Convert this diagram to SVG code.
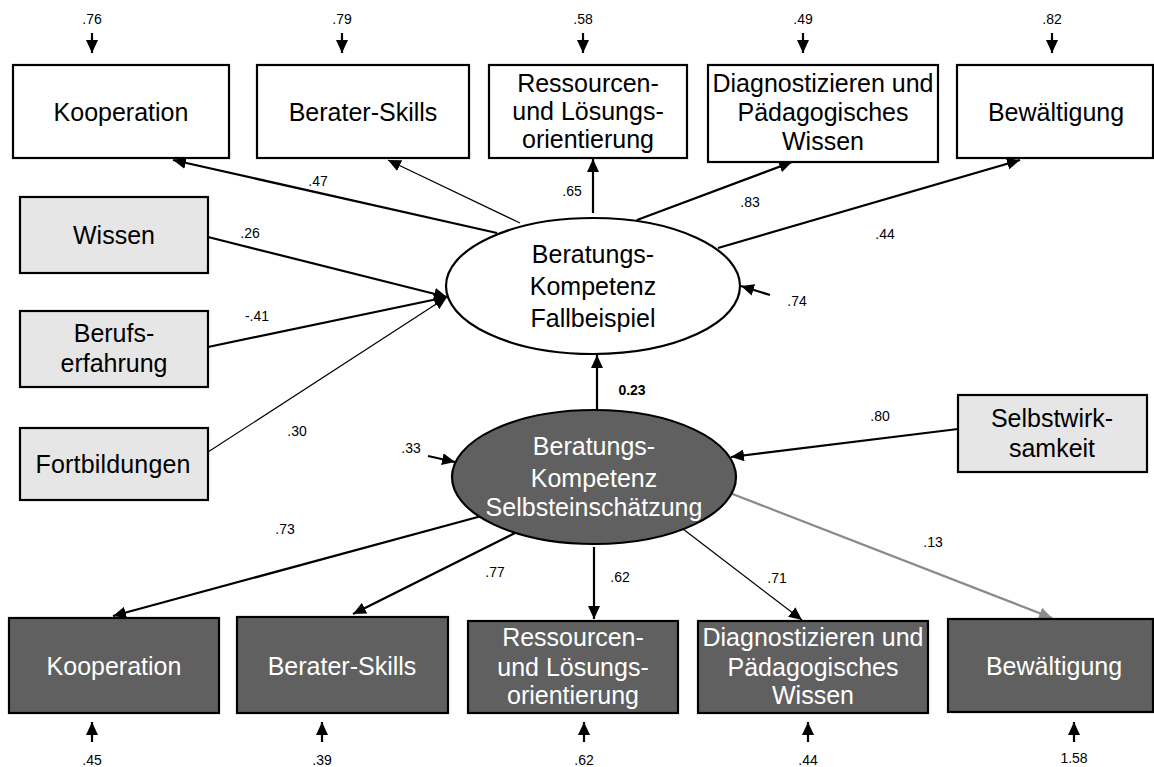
<svg xmlns="http://www.w3.org/2000/svg" width="1154" height="767" viewBox="0 0 1154 767">
<style>
.box{stroke:#000;stroke-width:2.2}
.w{fill:#fff}.g{fill:#e6e6e6}.d{fill:#606060}
.t{font-family:"Liberation Sans",Arial,sans-serif;font-size:25px;text-anchor:middle;fill:#000}
.tw{fill:#fff}
.n{font-family:"Liberation Sans",Arial,sans-serif;font-size:14px;text-anchor:middle;fill:#000}
.c{fill:none;stroke:#000;stroke-width:2.2;marker-end:url(#ah)}
.thin{stroke-width:1.2}
.gray{stroke:#8a8a8a;marker-end:url(#ahg)}
</style>
<defs>
<marker id="ah" markerUnits="userSpaceOnUse" markerWidth="14" markerHeight="12" refX="13" refY="6" orient="auto"><path d="M0,0 L13,6 L0,12 z" fill="#000"/></marker>
<marker id="ahg" markerUnits="userSpaceOnUse" markerWidth="14" markerHeight="12" refX="13" refY="6" orient="auto"><path d="M0,0 L13,6 L0,12 z" fill="#8a8a8a"/></marker>
</defs>
<rect width="1154" height="767" fill="#fff"/>

<g id="connectors">
<!-- top error arrows -->
<line class="c" x1="92" y1="33" x2="92" y2="53"/>
<line class="c" x1="342" y1="33" x2="342" y2="53"/>
<line class="c" x1="583" y1="33" x2="583" y2="53"/>
<line class="c" x1="803" y1="33" x2="803" y2="53"/>
<line class="c" x1="1052" y1="33" x2="1052" y2="53"/>
<!-- white ellipse to top boxes -->
<line class="c" x1="497" y1="233" x2="173" y2="160"/>
<line class="c thin" x1="520" y1="223" x2="388" y2="160"/>
<line class="c" x1="593" y1="213" x2="593" y2="159"/>
<line class="c" x1="637" y1="220" x2="792" y2="162"/>
<line class="c" x1="718" y1="248" x2="1020" y2="160"/>
<line class="c" x1="770" y1="295" x2="741" y2="286"/>
<!-- predictors -->
<line class="c" x1="208" y1="237" x2="447" y2="297"/>
<line class="c" x1="208" y1="347" x2="447" y2="297"/>
<line class="c thin" x1="208" y1="452" x2="447" y2="297"/>
<!-- 0.23 -->
<line class="c" x1="597" y1="410" x2="597" y2="355"/>
<!-- .33 -->
<line class="c" x1="428" y1="456" x2="455" y2="462"/>
<!-- .80 -->
<line class="c" x1="958" y1="429" x2="731" y2="457"/>
<!-- dark ellipse to bottom boxes -->
<line class="c" x1="500" y1="511" x2="113" y2="616"/>
<line class="c" x1="517" y1="532" x2="353" y2="614"/>
<line class="c" x1="594" y1="547" x2="594" y2="619"/>
<line class="c thin" x1="683" y1="529" x2="802" y2="620"/>
<line class="c gray" x1="730" y1="493" x2="1052" y2="618"/>
<!-- bottom error arrows -->
<line class="c" x1="92" y1="742" x2="92" y2="722"/>
<line class="c" x1="322" y1="742" x2="322" y2="722"/>
<line class="c" x1="584" y1="742" x2="584" y2="722"/>
<line class="c" x1="808" y1="742" x2="808" y2="722"/>
<line class="c" x1="1074" y1="742" x2="1074" y2="722"/>
</g>

<g id="labels">
<text class="n" x="92" y="24">.76</text>
<text class="n" x="342" y="24">.79</text>
<text class="n" x="583" y="24">.58</text>
<text class="n" x="803" y="24">.49</text>
<text class="n" x="1052" y="24">.82</text>
<text class="n" x="318" y="186">.47</text>
<text class="n" x="572" y="196">.65</text>
<text class="n" x="750" y="207">.83</text>
<text class="n" x="885" y="239">.44</text>
<text class="n" x="797" y="306">.74</text>
<text class="n" x="250" y="238">.26</text>
<text class="n" x="257" y="321">-.41</text>
<text class="n" x="297" y="436">.30</text>
<text class="n" x="411" y="453" >.33</text>
<text class="n" x="632" y="395" font-weight="bold">0.23</text>
<text class="n" x="880" y="421">.80</text>
<text class="n" x="285" y="534">.73</text>
<text class="n" x="495" y="577">.77</text>
<text class="n" x="620" y="582">.62</text>
<text class="n" x="777" y="583">.71</text>
<text class="n" x="933" y="547">.13</text>
<text class="n" x="92" y="765">.45</text>
<text class="n" x="322" y="765">.39</text>
<text class="n" x="584" y="765">.62</text>
<text class="n" x="808" y="765">.44</text>
<text class="n" x="1074" y="763">1.58</text>
</g>

<g id="top-kooperation"><rect class="box w" x="13" y="65" width="216" height="93"/><text class="t" x="121" y="121">Kooperation</text></g>
<g id="top-berater"><rect class="box w" x="257" y="65" width="212" height="93"/><text class="t" x="363" y="121">Berater-Skills</text></g>
<g id="top-ressourcen"><rect class="box w" x="489" y="65" width="198" height="93"/><text class="t" x="588" y="92">Ressourcen-</text><text class="t" x="588" y="120">und Lösungs-</text><text class="t" x="588" y="148">orientierung</text></g>
<g id="top-diagnost"><rect class="box w" x="708" y="65" width="230" height="97"/><text class="t" x="823" y="92">Diagnostizieren und</text><text class="t" x="823" y="121">Pädagogisches</text><text class="t" x="823" y="150">Wissen</text></g>
<g id="top-bewaeltigung"><rect class="box w" x="957" y="65" width="196" height="93"/><text class="t" x="1056" y="121">Bewältigung</text></g>

<g id="wissen"><rect class="box g" x="20" y="197" width="188" height="76"/><text class="t" x="114" y="244">Wissen</text></g>
<g id="berufserfahrung"><rect class="box g" x="20" y="311" width="188" height="76"/><text class="t" x="114" y="342">Berufs-</text><text class="t" x="114" y="372">erfahrung</text></g>
<g id="fortbildungen"><rect class="box g" x="20" y="428" width="188" height="72"/><text class="t" x="113" y="473" textLength="155" lengthAdjust="spacing">Fortbildungen</text></g>

<g id="fallbeispiel"><ellipse cx="593" cy="286" rx="147" ry="68" fill="#fff" stroke="#000" stroke-width="2.2"/><text class="t" x="593" y="263">Beratungs-</text><text class="t" x="593" y="295">Kompetenz</text><text class="t" x="593" y="327">Fallbeispiel</text></g>

<g id="selbsteinschaetzung"><ellipse cx="594" cy="477" rx="142" ry="67" fill="#606060" stroke="#000" stroke-width="2.2"/><text class="t tw" x="594" y="455">Beratungs-</text><text class="t tw" x="594" y="487">Kompetenz</text><text class="t tw" x="594" y="516">Selbsteinschätzung</text></g>

<g id="selbstwirksamkeit"><rect class="box g" x="958" y="395" width="189" height="77"/><text class="t" x="1052" y="427">Selbstwirk-</text><text class="t" x="1052" y="457">samkeit</text></g>

<g id="bot-kooperation"><rect class="box d" x="9" y="618" width="210" height="95"/><text class="t tw" x="114" y="675">Kooperation</text></g>
<g id="bot-berater"><rect class="box d" x="237" y="617" width="211" height="96"/><text class="t tw" x="342" y="675">Berater-Skills</text></g>
<g id="bot-ressourcen"><rect class="box d" x="468" y="621" width="210" height="92"/><text class="t tw" x="573" y="646">Ressourcen-</text><text class="t tw" x="573" y="676">und Lösungs-</text><text class="t tw" x="573" y="704">orientierung</text></g>
<g id="bot-diagnost"><rect class="box d" x="698" y="621" width="230" height="92"/><text class="t tw" x="813" y="646">Diagnostizieren und</text><text class="t tw" x="813" y="676">Pädagogisches</text><text class="t tw" x="813" y="704">Wissen</text></g>
<g id="bot-bewaeltigung"><rect class="box d" x="948" y="619" width="205" height="93"/><text class="t tw" x="1054" y="675">Bewältigung</text></g>
</svg>
